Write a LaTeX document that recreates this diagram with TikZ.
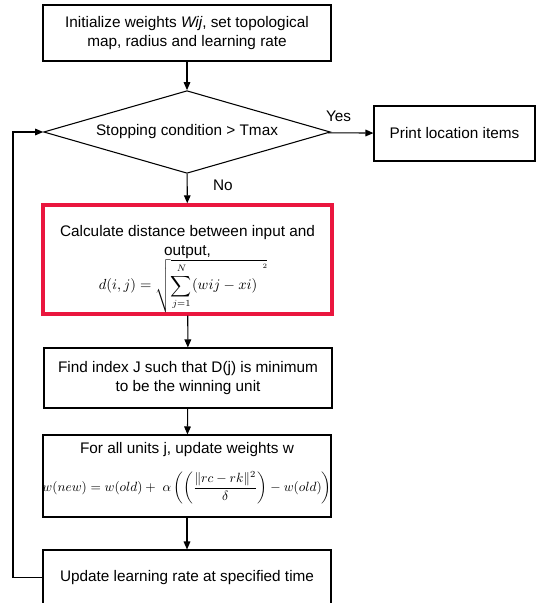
\documentclass[tikz,border=0pt]{standalone}
\usepackage[no-math]{fontspec}
\setmainfont{Liberation Sans}
\usepackage{amsmath}
\usetikzlibrary{shapes.geometric,arrows.meta}
\definecolor{hilite}{RGB}{234,22,62}
\begin{document}
\begin{tikzpicture}[x=0.75pt,y=-0.75pt,
  every node/.style={font=\fontsize{11.5}{13.8}\selectfont},
  procbox/.style={draw,line width=0.8pt,align=center,inner sep=0pt},
  decision/.style={draw,line width=0.8pt,diamond,aspect=3.46,inner sep=0pt,
    minimum width=215pt,minimum height=62pt},
  flow/.style={line width=0.8pt,-{Triangle[length=6pt,width=5pt]}},
  plain/.style={inner sep=0pt,align=center}]
\clip (0,0) rectangle (536,603);

% process boxes
\node[procbox,minimum width=216pt,minimum height=42pt] (init) at (187,33)
  {Initialize weights \textit{Wij}, set topological\\map, radius and learning rate};
\node[decision] (stop) at (187,132) {Stopping condition > Tmax};
\node[procbox,minimum width=120.75pt,minimum height=41.25pt] (print) at (454.5,133.5)
  {Print location items};
\node[procbox,draw=hilite,line width=2.6pt,minimum width=216.75pt,minimum height=81.75pt]
  (dist) at (187.5,259.5) {};
\node[procbox,minimum width=216pt,minimum height=45pt] (win) at (188,378)
  {Find index J such that D(j) is minimum\\to be the winning unit};
\node[procbox,minimum width=216pt,minimum height=61.5pt] (upd) at (187,476) {};
\node[procbox,minimum width=216pt,minimum height=41.25pt] (rate) at (187,577.5)
  {Update learning rate at specified time};

% contents of the distance box
\node[plain] (disttxt) at (187.5,242)
  {Calculate distance between input and\\output,};
\node[plain] (distfm) at (183,286)
  {\fontsize{10.5}{12}\selectfont
   $d(i,j) = \sqrt{\displaystyle\sum_{j=1}^{N}(wij - xi)\hspace{4pt}\raisebox{16pt}{$\scriptscriptstyle 2$}}$};

% contents of the weight update box
\node[plain] (updtxt) at (187,450) {For all units j, update weights w};
\node[plain] (updfm) at (187,488)
  {\fontsize{10}{12}\selectfont
   $w(new) = w(old) +\ \alpha\left(\left(\dfrac{\lVert rc - rk\rVert^2}{\delta}\right) - w(old)\right)$};

% connectors
\draw[flow] (init) -- (stop);
\draw[flow] (stop) -- node[plain,above=8pt,pos=0.23] (yes) {Yes} (print);
\draw[flow] (stop) -- node[plain,right=19pt,pos=0.4] (no) {No} (dist);
\draw[flow] (dist) -- (win);
\draw[flow] (win) -- (upd);
\draw[flow] (upd) -- (rate);
\coordinate (loop) at (13,132);
\draw[flow] (rate.west) -| (loop) -- (stop.west);
\end{tikzpicture}
\end{document}
